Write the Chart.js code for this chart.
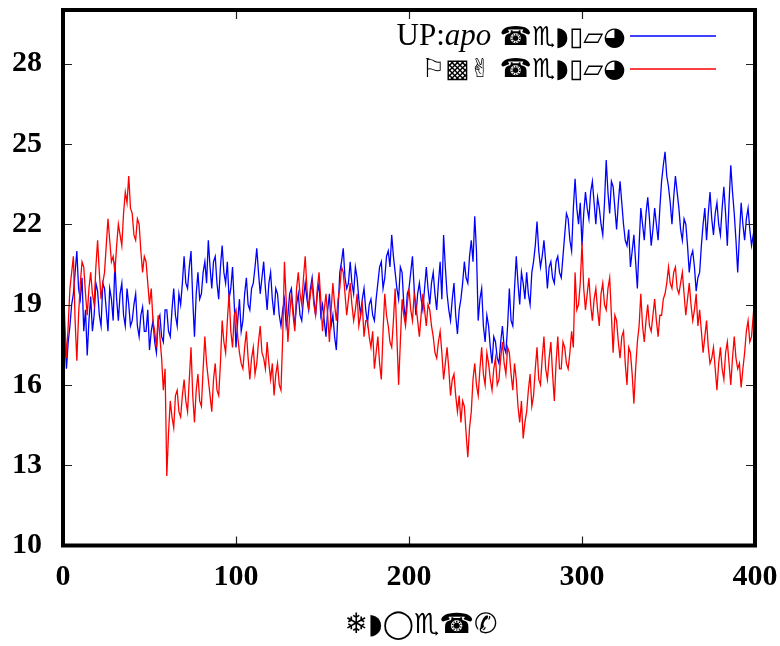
<!DOCTYPE html>
<html>
<head>
<meta charset="utf-8">
<script src="https://cdn.jsdelivr.net/npm/chart.js@4.4.1/dist/chart.umd.min.js"></script>
<style>
  body { margin: 0; background: #fff; }
</style>
</head>
<body>
<canvas id="chart" width="780" height="646"></canvas>
<script>
// one sample per unit of x
const blueValues = [
  17.0,17.8,16.6,17.6,18.2,19.0,19.4,20.2,21.0,19.6,19.2,20.0,18.0,18.8,17.1,18.4,19.3,18.0,18.6,19.8,
  19.5,18.6,18.2,19.8,19.6,18.8,18.0,19.6,19.2,18.4,20.6,19.2,18.4,19.4,19.8,18.6,18.2,19.6,19.0,18.2,
  18.4,19.0,19.4,18.2,17.8,18.6,18.9,18.0,18.0,18.8,17.3,18.0,18.4,17.6,17.2,18.4,18.6,17.8,17.6,18.8,
  18.8,18.0,17.8,18.8,19.6,18.6,18.2,19.4,19.0,19.8,20.8,19.8,19.6,20.4,21.0,19.2,17.8,19.4,20.2,19.2,
  19.4,20.2,20.6,19.8,21.4,20.4,19.6,20.6,20.8,19.8,19.2,20.4,21.2,20.2,19.8,20.6,19.2,19.6,20.4,19.0,
  17.4,18.4,19.2,18.0,18.4,19.4,20.0,19.0,18.8,19.6,19.8,20.4,21.1,20.2,19.4,20.0,20.6,19.6,18.8,19.8,
  20.2,19.2,18.6,19.6,19.4,18.6,18.2,18.8,19.2,18.2,18.6,19.4,19.6,18.8,18.2,19.0,19.4,18.6,18.4,19.2,
  19.8,19.2,18.8,19.6,20.0,19.2,18.6,19.4,19.8,18.6,19.0,18.4,17.8,18.8,19.4,18.2,18.6,17.8,17.3,18.8,
  20.2,20.6,21.1,20.0,19.6,19.8,20.6,19.8,19.4,20.4,20.0,19.2,18.6,19.2,19.6,18.8,18.3,19.0,19.2,18.6,
  18.4,19.2,19.8,20.4,20.6,19.6,20.0,20.8,21.0,20.4,21.6,20.8,20.2,19.6,19.2,20.4,20.2,19.0,18.4,19.4,
  19.6,20.2,20.8,19.6,18.6,19.4,19.8,19.2,18.8,19.6,20.4,19.6,19.0,19.8,20.2,19.4,18.8,19.8,20.6,19.2,
  21.6,20.4,19.4,18.8,18.4,19.2,19.8,18.6,17.9,18.8,19.2,19.8,20.6,20.0,19.8,20.8,21.4,20.6,22.3,21.0,
  18.4,19.2,19.6,18.2,17.6,18.6,18.2,17.4,16.8,17.8,17.6,17.0,16.8,17.6,18.2,17.4,17.2,18.2,19.6,18.4,
  18.2,19.6,20.8,19.8,19.0,20.2,19.8,19.2,20.2,19.4,19.0,20.2,20.6,21.2,22.1,21.0,20.4,20.8,21.4,20.6,
  19.6,20.4,20.6,20.0,19.8,20.6,20.8,20.2,20.0,20.8,21.6,22.4,22.2,21.4,21.0,22.6,23.7,22.6,22.0,22.8,
  21.2,22.4,23.2,22.6,22.2,23.2,23.6,22.8,22.0,23.0,22.6,22.0,21.6,22.8,24.4,23.2,22.4,23.6,23.4,22.6,
  21.8,22.8,23.6,22.8,22.0,21.4,21.2,21.8,20.4,21.0,21.6,20.6,19.6,21.2,22.6,22.0,21.4,22.4,23.0,22.2,
  21.2,21.8,22.6,22.0,21.4,22.6,23.6,24.2,24.7,23.8,23.4,22.8,22.0,23.0,23.8,23.2,22.6,21.8,21.4,22.2,
  22.0,21.2,20.2,20.8,21.0,20.4,19.5,20.0,20.2,21.2,22.0,22.6,21.4,22.4,23.2,22.2,21.6,22.4,22.8,22.0,
  21.6,22.6,23.4,22.4,21.2,22.8,24.2,23.2,22.4,21.4,20.2,21.6,22.8,22.0,21.4,22.2,22.6,21.8,21.2,21.6,
  22.0
];
const redValues = [
  20.6,18.4,17.0,18.2,19.6,20.2,20.8,18.4,16.9,18.6,19.8,20.6,20.4,19.4,18.6,19.6,20.2,19.4,19.0,20.4,
  21.4,20.2,19.2,19.8,20.2,21.2,22.2,21.4,20.6,20.8,20.2,21.2,22.0,21.6,21.2,22.4,23.2,22.8,23.8,22.6,
  22.4,21.6,21.4,22.2,22.0,21.0,20.2,20.8,20.6,19.8,19.0,19.6,18.4,18.0,17.4,18.6,17.8,17.0,15.8,16.6,
  12.6,14.2,15.4,14.8,14.4,15.6,15.8,15.0,14.8,15.6,16.2,15.4,15.0,16.2,17.4,15.6,14.6,15.8,16.4,15.4,
  15.2,16.6,17.8,16.8,16.2,15.6,15.0,16.2,16.8,15.8,15.6,16.8,18.4,17.6,17.2,18.4,19.4,18.0,17.4,18.6,
  18.8,17.8,17.2,16.8,16.6,17.4,18.0,17.0,16.2,17.0,17.4,16.4,16.8,17.6,18.2,17.2,17.0,16.6,17.6,16.8,
  16.2,16.8,15.6,16.4,16.8,16.0,15.8,17.8,20.6,19.2,17.6,18.6,19.4,18.6,18.0,19.6,20.2,19.4,19.0,20.0,
  20.8,19.6,18.8,19.4,19.8,19.0,18.6,19.6,20.2,19.2,18.0,18.8,19.4,18.6,17.6,18.8,19.8,19.0,18.4,19.2,
  19.6,20.4,20.2,19.4,18.6,19.2,19.8,19.0,18.4,18.8,19.4,18.2,18.6,19.0,17.8,18.4,18.4,17.8,17.4,18.0,
  16.6,17.2,17.8,16.8,16.2,18.0,19.4,18.6,18.2,17.6,17.4,18.4,19.6,17.8,16.0,17.6,19.2,18.6,18.2,19.0,
  19.6,18.8,18.4,19.4,19.0,18.4,17.8,18.6,19.4,18.8,18.2,19.0,18.8,18.2,17.8,17.2,17.0,17.6,18.0,17.2,
  16.2,16.8,17.4,16.6,15.6,16.2,16.4,15.6,15.0,15.6,14.6,15.4,15.2,14.2,13.3,14.4,15.0,16.2,16.8,16.0,
  15.6,16.6,17.4,16.4,16.0,17.2,16.8,16.2,15.8,16.6,17.0,16.0,16.2,17.0,17.6,16.8,16.4,17.4,17.2,16.4,
  15.8,16.8,16.2,15.2,14.6,15.4,14.0,14.6,15.0,15.8,16.4,15.2,15.6,16.6,17.4,16.2,16.0,17.0,17.8,16.6,
  16.2,17.0,17.6,16.4,15.4,16.8,17.8,16.6,16.6,17.6,17.4,16.8,16.6,17.2,18.0,17.4,20.2,18.8,19.0,19.8,
  21.3,19.6,18.8,19.4,20.0,19.0,18.4,19.2,19.6,18.8,18.2,19.4,19.8,19.0,18.8,19.6,20.0,18.6,17.2,18.6,
  18.4,17.6,17.0,17.8,18.0,16.8,16.0,17.4,17.2,16.4,15.3,16.6,17.6,18.2,19.4,18.2,17.6,18.4,19.0,18.2,
  18.0,18.6,19.2,18.4,17.8,18.6,18.6,19.2,19.4,19.8,20.4,19.8,19.6,20.2,20.4,19.6,19.4,19.8,20.2,19.4,
  18.6,19.2,19.8,19.0,18.4,18.8,19.4,18.2,18.8,18.0,17.2,17.8,18.4,17.4,16.8,17.0,17.4,16.6,15.8,16.8,
  17.4,16.6,16.2,17.2,17.6,16.8,16.0,17.0,17.8,17.0,16.6,16.8,15.9,16.6,17.2,18.0,18.4,17.6,17.8,18.6,
  18.2
];
const xTicks = [0, 100, 200, 300, 400];
const yTicks = [10, 13, 16, 19, 22, 25, 28];
// key labels as [text, style] pieces
const blueLabel = [["UP:", "serif"], ["apo", "italic"], [" ☎♏◗▯▱◕", "sym"]];
const redLabel = [["⚐▩✌ ☎♏◗▯▱◕", "sym"]];
const xTitle = "❄◗◯♏☎✆";

const fonts = {
  serif: "31px 'Liberation Serif'",
  italic: "italic 31px 'Liberation Serif'",
  sym: "26px 'DejaVu Sans'"
};

function toPoints(values) {
  return values.map((v, i) => ({ x: i, y: v }));
}

function drawLabel(ctx, pieces, rightX, baseY) {
  let total = 0;
  pieces.forEach(p => { ctx.font = fonts[p[1]]; total += ctx.measureText(p[0]).width; });
  let x = rightX - total;
  pieces.forEach(p => {
    ctx.font = fonts[p[1]];
    ctx.fillText(p[0], x, baseY);
    x += ctx.measureText(p[0]).width;
  });
}

function noPadding(s) {
  s.paddingLeft = 0; s.paddingRight = 0; s.paddingTop = 0; s.paddingBottom = 0;
}

const framePlugin = {
  id: "frame",
  afterDatasetsDraw(chart) {
    const { ctx, chartArea: a, scales: { x, y } } = chart;
    ctx.save();
    ctx.strokeStyle = "#222";
    ctx.lineWidth = 1.2;
    ctx.beginPath();
    yTicks.forEach(v => {
      const py = Math.round(y.getPixelForValue(v)) + 0.5;
      ctx.moveTo(a.left, py); ctx.lineTo(a.left + 9, py);
      ctx.moveTo(a.right, py); ctx.lineTo(a.right - 9, py);
    });
    xTicks.forEach(v => {
      const px = Math.round(x.getPixelForValue(v)) + 0.5;
      ctx.moveTo(px, a.bottom); ctx.lineTo(px, a.bottom - 9);
      ctx.moveTo(px, a.top); ctx.lineTo(px, a.top + 9);
    });
    ctx.stroke();
    ctx.strokeStyle = "#000";
    ctx.lineWidth = 4;
    ctx.strokeRect(a.left, a.top, a.right - a.left, a.bottom - a.top);

    // key, top right
    ctx.fillStyle = "#000";
    ctx.textBaseline = "alphabetic";
    ctx.textAlign = "left";
    drawLabel(ctx, blueLabel, 626, 45);
    drawLabel(ctx, redLabel, 626, 77);
    ctx.lineWidth = 1.3;
    ctx.strokeStyle = "#0000ff";
    ctx.beginPath(); ctx.moveTo(630, 36); ctx.lineTo(716, 36); ctx.stroke();
    ctx.strokeStyle = "#ff0000";
    ctx.beginPath(); ctx.moveTo(630, 69); ctx.lineTo(716, 69); ctx.stroke();

    // x axis title
    ctx.font = "28px 'DejaVu Sans'";
    ctx.textAlign = "center";
    ctx.textBaseline = "middle";
    ctx.fillText(xTitle, (a.left + a.right) / 2 + 12, a.bottom + 80);
    ctx.restore();
  }
};

const tickFont = { family: "'Liberation Serif'", size: 30, weight: "bold" };

new Chart(document.getElementById("chart"), {
  type: "line",
  data: {
    datasets: [
      {
        label: "blue",
        data: toPoints(blueValues),
        borderColor: "#0000ff",
        borderWidth: 1.3,
        pointRadius: 0,
        tension: 0,
        order: 1
      },
      {
        label: "red",
        data: toPoints(redValues),
        borderColor: "#ff0000",
        borderWidth: 1.3,
        pointRadius: 0,
        tension: 0,
        order: 0
      }
    ]
  },
  options: {
    responsive: false,
    animation: false,
    layout: { padding: { top: 10, right: 25, left: 0, bottom: 0 } },
    plugins: {
      legend: { display: false },
      tooltip: { enabled: false }
    },
    scales: {
      x: {
        type: "linear",
        min: 0,
        max: 400,
        afterBuildTicks: s => { s.ticks = xTicks.map(v => ({ value: v })); },
        afterFit: s => { s.height = 100.5; noPadding(s); },
        grid: { display: false, drawTicks: false },
        border: { display: false },
        ticks: { padding: 14, maxRotation: 0, autoSkip: false, color: "#000", font: tickFont }
      },
      y: {
        min: 10,
        max: 30,
        afterBuildTicks: s => { s.ticks = yTicks.map(v => ({ value: v })); },
        afterFit: s => { s.width = 63; noPadding(s); },
        grid: { display: false, drawTicks: false },
        border: { display: false },
        ticks: { padding: 21, color: "#000", font: tickFont }
      }
    }
  },
  plugins: [framePlugin]
});
</script>
</body>
</html>
